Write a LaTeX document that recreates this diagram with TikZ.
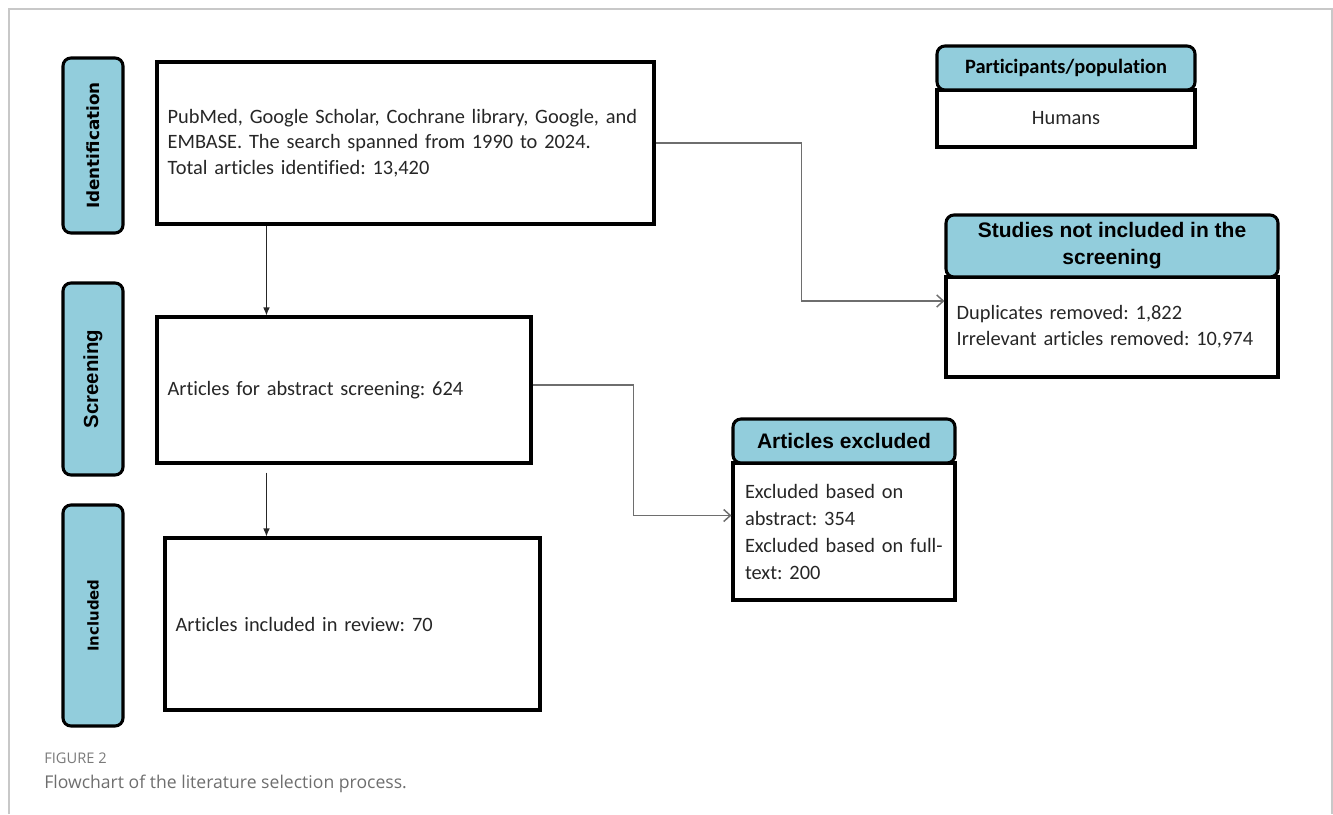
\documentclass[tikz,border=0pt]{standalone}
\usepackage{fontspec}
\setmainfont{Carlito}[Ligatures={TeX,NoCommon}]
\newfontfamily\arialfont{Liberation Sans}
\newfontfamily\verdanafont{DejaVu Sans}
\newfontfamily\capfont{Open Sans}
\frenchspacing
\usetikzlibrary{arrows.meta}
\definecolor{stageblue}{HTML}{92CDDC}
\definecolor{textgray}{HTML}{262626}
\definecolor{linkgray}{HTML}{6E6E6E}
\definecolor{framegray}{HTML}{C8C8C8}
\definecolor{capgray}{HTML}{7A7A7A}
\tikzset{
    stage/.style={
        draw,
        line width=2.3pt,
        rounded corners=6pt,
        fill=stageblue,
        rotate=90,
        minimum height=45pt,
        inner sep=0pt,
    },
    box/.style={
        draw,
        line width=2.3pt,
        inner xsep=8pt,
        inner ysep=0pt,
        align=left,
        text=textgray,
        font=\fontsize{15.3}{19}\selectfont,
    },
    head/.style={
        draw,
        line width=2.3pt,
        rounded corners=6pt,
        fill=stageblue,
        inner sep=0pt,
        align=center,
    },
    flow/.style={draw=textgray, line width=0.8pt, -{Latex[length=6pt,width=5pt]}},
    link/.style={draw=linkgray, line width=1.1pt, -{Straight Barb[length=5pt,width=9pt]}},
}

\begin{document}
\begin{tikzpicture}[x=0.75pt,y=-0.75pt]
                   \useasboundingbox (0,0) rectangle (1333,814);
                   \draw[framegray, line width=0.8pt] (9,814) -- (9,9) -- (1332,9) -- (1332,814);
                   \node[stage, minimum width=131.25pt, font=\verdanafont\bfseries\fontsize{12.6}{14}\selectfont] (id) at (93,145.5) {Identification};
                   \node[stage, minimum width=144pt, font=\arialfont\bfseries\fontsize{15.3}{18}\selectfont] (scr) at (93,379) {Screening};
                   \node[stage, minimum width=165.75pt, font=\verdanafont\bfseries\fontsize{11.2}{13}\selectfont] (inc) at (93,615.5) {Included};
                   \node[box, minimum width=372.75pt, minimum height=121.5pt, text width=356.75pt] (b1) at (405.5,143) {PubMed, Google Scholar, Cochrane library, Google, and\\
                   EMBASE. The search spanned from 1990 to 2024.\\
                   Total articles identified: 13,420};
                   \node[box, minimum width=280.5pt, minimum height=109.5pt, text width=264.5pt] (b2) at (344,390) {Articles for abstract screening: 624};
                   \node[box, minimum width=281.25pt, minimum height=129pt, text width=265.25pt] (b3) at (352.5,624) {Articles included in review: 70};
                   \node[box, minimum width=193.5pt, minimum height=42.75pt, align=center] (pb) at (1066,118.5) {Humans};
                   \node[head, minimum width=193.5pt, minimum height=33pt, font=\bfseries\fontsize{15.3}{18}\selectfont] (ph) at (1066,68) {Participants/population};
                   \node[box, minimum width=249pt, minimum height=75pt, text width=233pt, font=\fontsize{15.3}{19.5}\selectfont] (sb) at (1112,327) {Duplicates removed: 1,822\\
                   Irrelevant articles removed: 10,974};
                   \node[head, minimum width=249pt, minimum height=46.5pt, font=\arialfont\bfseries\fontsize{15.75}{20.25}\selectfont] (sh) at (1112,246) {Studies not included in the\\
                   screening};
                   \node[box, minimum width=166.5pt, minimum height=102.75pt, inner xsep=9pt, text width=148.5pt, font=\fontsize{15.3}{20.25}\selectfont] (eb) at (844,531.5) {Excluded based on\\
                   abstract: 354\\
                   Excluded based on full-\\
                   text: 200};
                   \node[head, minimum width=166.5pt, minimum height=33pt, font=\arialfont\bfseries\fontsize{15.75}{19}\selectfont] (eh) at (844,441) {Articles excluded};
                   \draw[flow] ([xshift=83.25pt]b1.south west) to ([xshift=83.25pt]b2.north west);
                   \draw[flow] ([xshift=83.25pt,yshift=-6pt]b2.south west) to ([xshift=77.25pt]b3.north west);
                   \draw[link] (b1.east) -- ++(146,0) |- ([yshift=19.5pt]sb.west);
                   \draw[link] ([yshift=3.75pt]b2.east) -- ++(101,0) |- ([yshift=12pt]eb.west);
                   \node[anchor=base west, inner sep=0pt, text=capgray, font=\capfont\fontsize{11}{12}\selectfont] (fig) at (44,763) {FIGURE 2};
                   \node[anchor=base west, inner sep=0pt, text=capgray!90!black, font=\capfont\fontsize{13.2}{15}\selectfont] (cap) at (44,788) {Flowchart of the literature selection process.};
\end{tikzpicture}
\end{document}
